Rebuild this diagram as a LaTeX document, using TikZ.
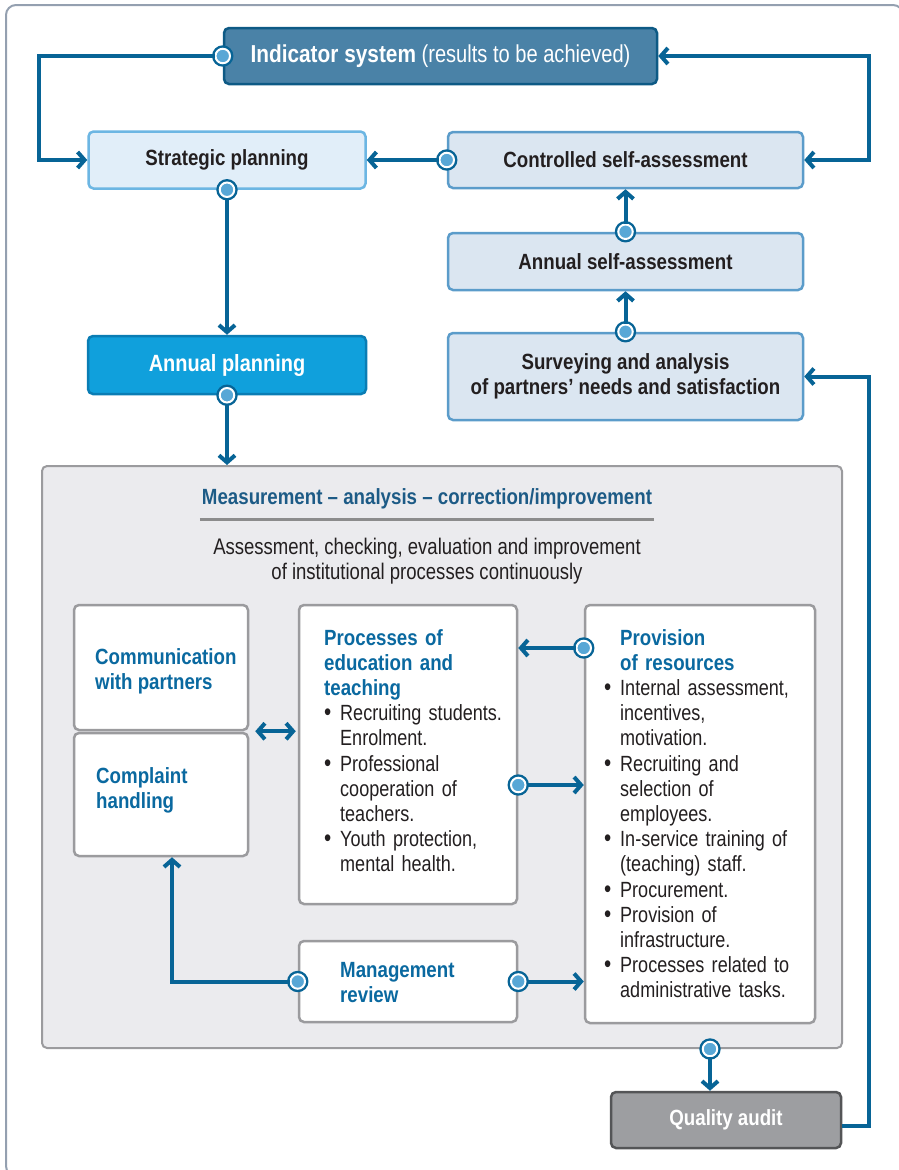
\documentclass[tikz,border=0pt]{standalone}
\usepackage{fontspec}
\setmainfont{Liberation Sans}[FakeStretch=0.82, BoldFeatures={FakeStretch=0.85}]
\usetikzlibrary{arrows.meta,positioning}

\definecolor{framec}{RGB}{148,160,176}
\definecolor{flowblue}{RGB}{7,100,150}
\definecolor{knobfill}{RGB}{88,167,214}
\definecolor{indfill}{RGB}{74,130,167}
\definecolor{indline}{RGB}{14,90,133}
\definecolor{spfill}{RGB}{225,238,249}
\definecolor{spline}{RGB}{108,182,227}
\definecolor{csafill}{RGB}{219,230,241}
\definecolor{csaline}{RGB}{91,156,202}
\definecolor{apfill}{RGB}{16,160,220}
\definecolor{apline}{RGB}{10,125,180}
\definecolor{measfill}{RGB}{235,235,238}
\definecolor{boxgray}{RGB}{155,155,158}
\definecolor{qafill}{RGB}{157,158,161}
\definecolor{qaline}{RGB}{84,85,87}
\definecolor{headblue}{RGB}{10,105,160}
\definecolor{titleblue}{RGB}{29,91,134}
\definecolor{inkc}{RGB}{35,31,32}
\definecolor{rulegray}{RGB}{140,140,140}

\newcommand\bodysize{\fontsize{22}{25.2}\selectfont}
% heading lines of a list box, bullet item of a list box, line break in an item
\newcommand\hd[2][0pt]{{\leftskip=#1\relax\leavevmode\color{headblue}\bfseries #2\par}}
\newcommand\itm{\par\noindent\hangindent=16pt\hangafter=1%
  \makebox[16pt][l]{\fontsize{25}{0}\selectfont\textbullet}}
\newcommand\nl{\hfil\break}

\tikzset{
  box/.style={draw, rounded corners=5pt, line width=2.5pt, inner sep=0pt},
  knob/.style={circle, fill=knobfill, draw=white, line width=2pt, minimum size=14.5pt,
    inner sep=0pt, preaction={draw=flowblue, line width=6.8pt}},
  flow/.style={draw=flowblue, line width=4pt},
  headtxt/.style={text=headblue, font=\bodysize\bfseries, align=left, inner sep=0pt},
  listtxt/.style={text=inkc, align=left, inner sep=0pt, anchor=north west},
}

\begin{document}
\begin{tikzpicture}[x=1pt, y=-1pt, font=\bodysize, text=inkc,
    >={Straight Barb[length=7pt,width=16pt]}]
\useasboundingbox (0,0) rectangle (898,1170);
\draw[framec, line width=2pt, rounded corners=10pt] (6,5) rectangle (903,1176);

% top part
\node[box, draw=indline, fill=indfill, text=white, minimum width=433pt, minimum height=56pt,
  font=\fontsize{24.5}{27}\selectfont] (ind) at (440.5,56)
  {\textbf{Indicator system} (results to be achieved)};
\node[box, draw=spline, fill=spfill, minimum width=277pt, minimum height=57pt,
  font=\bodysize\bfseries] (sp) at (227,160) {Strategic planning};
\node[box, draw=csaline, fill=csafill, minimum width=355pt, minimum height=56pt,
  font=\bodysize\bfseries] (csa) at (625.5,160) {Controlled self-assessment};
\node[box, draw=csaline, fill=csafill, minimum width=355pt, minimum height=57pt,
  font=\bodysize\bfseries] (asa) at (625.5,261.5) {Annual self-assessment};
\node[box, draw=csaline, fill=csafill, minimum width=355pt, minimum height=87pt,
  font=\bodysize\bfseries, align=center] (sur) at (625.5,376.5)
  {Surveying and analysis\\of partners’ needs and satisfaction};
\node[box, draw=apline, fill=apfill, text=white, minimum width=278pt, minimum height=58pt,
  font=\fontsize{23.5}{26}\selectfont\bfseries] (ap) at (227,365) {Annual planning};

% measurement block
\node[box, draw=boxgray, fill=measfill, line width=2pt, minimum width=800pt,
  minimum height=582pt] (meas) at (442,757) {};
\node[text=titleblue, font=\bodysize\bfseries, inner sep=0pt] (ttl) at (427,499)
  {Measurement – analysis – correction/improvement};
\draw[rulegray, line width=2.5pt] ([xshift=-2pt,yshift=-10pt]ttl.south west)
  -- ([xshift=2pt,yshift=-10pt]ttl.south east);
\node[align=center, inner sep=0pt, font=\fontsize{22.6}{25.2}\selectfont] (sub) at (427,561)
  {Assessment, checking, evaluation and improvement\\of institutional processes continuously};

\node[box, draw=boxgray, fill=white, minimum width=174pt, minimum height=125pt] (com) at (161,667.5) {};
\node[box, draw=boxgray, fill=white, minimum width=174pt, minimum height=123pt] (cpl) at (161,794.5) {};
\node[box, draw=boxgray, fill=white, minimum width=218pt, minimum height=299pt] (proc) at (408,754.5) {};
\node[box, draw=boxgray, fill=white, minimum width=230pt, minimum height=418pt] (prov) at (700,814) {};
\node[box, draw=boxgray, fill=white, minimum width=218pt, minimum height=81pt] (mr) at (408,981.5) {};
\node[box, draw=qaline, fill=qafill, text=white, minimum width=230pt, minimum height=56pt,
  font=\bodysize\bfseries] (qa) at (726,1120) {Quality audit};

\node[headtxt, anchor=west] (comt) at (95,671) {Communication\\with partners};
\node[headtxt, anchor=west] (cplt) at (96,790.5) {Complaint\\handling};
\node[headtxt, anchor=west] (mrt) at (340,982.5) {Management\\review};

\node[listtxt, text width=188pt] (proct) at (324,629) {%
  \hd{Processes of\\education and\\teaching}
  \itm Recruiting students.\nl Enrolment.
  \itm Professional\nl cooperation of\nl teachers.
  \itm Youth protection,\nl mental health.\par};
\node[listtxt, text width=205pt] (provt) at (604,629) {%
  \hd[16pt]{Provision\\of resources}
  \itm Internal assessment,\nl incentives,\nl motivation.
  \itm Recruiting and\nl selection of\nl employees.
  \itm In-service training of\nl (teaching) staff.
  \itm Procurement.
  \itm Provision of\nl infrastructure.
  \itm Processes related to\nl administrative tasks.\par};

% connection points
\node[knob] (k1) at (ind.west) {};
\node[knob] (k2) at (sp.south) {};
\node[knob] (k3) at (csa.west) {};
\node[knob] (k4) at (asa.north) {};
\node[knob] (k5) at (sur.north) {};
\node[knob] (k6) at (ap.south) {};
\node[knob] (k7) at ([yshift=-30.5pt]proc.east) {};
\node[knob] (k8) at ([yshift=166pt]prov.west) {};
\node[knob] (k9) at (mr.west) {};
\node[knob] (k10) at (mr.east) {};
\node[knob] (k11) at ([xshift=268pt]meas.south) {};

% connectors
\draw[flow,->] (k1) -- ++(-184,0) |- (sp.west);
\draw[flow,<->] (ind.east) -| ([xshift=65pt]csa.east) -- (csa.east);
\draw[flow,->] (k3) -- (sp.east);
\draw[flow,->] (k2) -- (ap.north);
\draw[flow,->] (k4) -- (csa.south);
\draw[flow,->] (k5) -- (asa.south);
\draw[flow,->] (k6) -- (k6 |- meas.north);
\draw[flow,->] (k8) -- (k8 -| proc.east);
\draw[flow,->] (k7) -- (k7 -| prov.west);
\draw[flow,<->,shorten <=6pt,shorten >=2pt] (com.south east) -- (com.south east -| proc.west);
\draw[flow,->] (k9) -| ([xshift=11pt]cpl.south);
\draw[flow,->] (k10) -- (k10 -| prov.west);
\draw[flow,->] (k11) -- (k11 |- qa.north);
\draw[flow,->] ([yshift=-6pt]qa.east) -- ++(27,0) |- (sur.east);
\end{tikzpicture}
\end{document}
